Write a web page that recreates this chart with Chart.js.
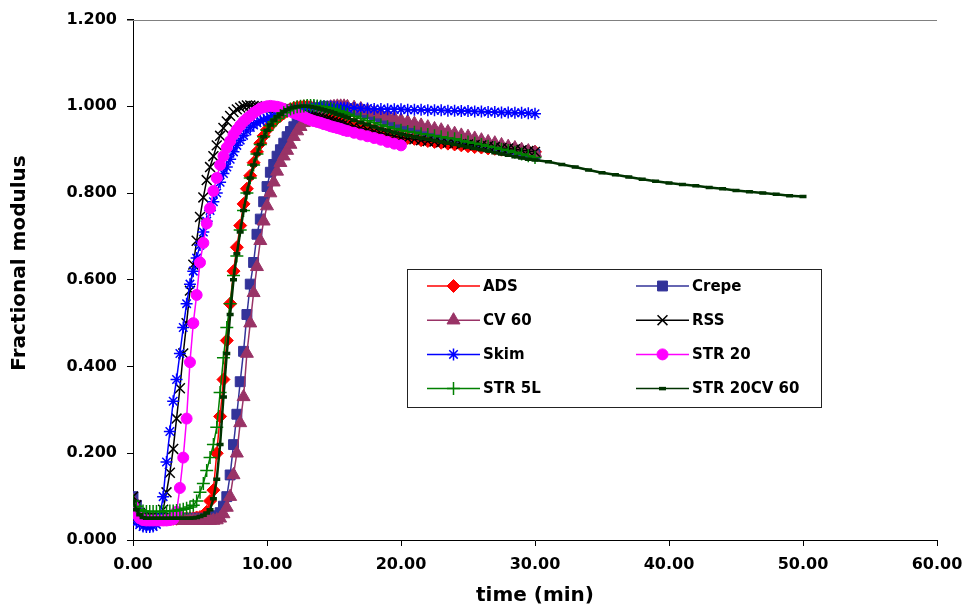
<!DOCTYPE html>
<html>
<head>
<meta charset="utf-8">
<script src="https://cdn.jsdelivr.net/npm/chart.js@4.4.1/dist/chart.umd.min.js"></script>
<style>
  html, body { margin: 0; padding: 0; background: #fff; }
  #wrap { width: 966px; height: 608px; }
</style>
</head>
<body>
<div id="wrap"><canvas id="cureChart" width="966" height="608"></canvas></div>
<script>
// sampling times (min)
const tRise = [0, 0.25, 0.5, 0.75, 1, 1.25, 1.5, 1.75, 2, 2.25, 2.5, 2.75, 3, 3.25, 3.5, 3.75,
  4, 4.25, 4.5, 4.75, 5, 5.25, 5.5, 5.75, 6, 6.25, 6.5, 6.75, 7, 7.25, 7.5, 7.75,
  8, 8.25, 8.5, 8.75, 9, 9.25, 9.5, 9.75, 10, 10.25, 10.5, 10.75, 11, 11.25, 11.5, 11.75,
  12, 12.25, 12.5, 12.75, 13, 13.25, 13.5, 13.75, 14, 14.25, 14.5, 14.75, 15, 15.25, 15.5, 15.75, 16];
const tPlateau = [16.5, 17, 17.5, 18, 18.5, 19, 19.5, 20, 20.5, 21, 21.5, 22, 22.5, 23, 23.5, 24,
  24.5, 25, 25.5, 26, 26.5, 27, 27.5, 28, 28.5, 29, 29.5, 30];
const tTail = [31, 32, 33, 34, 35, 36, 37, 38, 39, 40, 41, 42, 43, 44, 45, 46, 47, 48, 49, 50];

const seriesNames = ['ADS', 'Crepe', 'CV 60', 'RSS', 'Skim', 'STR 20', 'STR 5L', 'STR 20CV 60'];

// fractional modulus
const ads = [0.090, 0.070, 0.058, 0.052, 0.050, 0.049, 0.049, 0.049,
  0.049, 0.049, 0.049, 0.049, 0.049, 0.049, 0.050, 0.050,
  0.050, 0.050, 0.051, 0.052, 0.053, 0.056, 0.065, 0.090,
  0.115, 0.200, 0.285, 0.370, 0.460, 0.545, 0.620, 0.675,
  0.725, 0.775, 0.810, 0.840, 0.870, 0.895, 0.915, 0.932,
  0.946, 0.956, 0.965, 0.972, 0.978, 0.984, 0.989, 0.993,
  0.996, 0.998, 0.999, 1.000, 1.000, 0.999, 0.997, 0.994,
  0.990, 0.987, 0.984, 0.981, 0.978, 0.975, 0.972, 0.969, 0.966,
  0.961, 0.956, 0.951, 0.946, 0.941, 0.937, 0.933, 0.930, 0.927, 0.925, 0.922, 0.920, 0.918, 0.916,
  0.914, 0.912, 0.910, 0.908, 0.906, 0.905, 0.903, 0.902, 0.900, 0.899, 0.898, 0.897, 0.896, 0.895];

const crepe = [0.100, 0.080, 0.062, 0.054, 0.051, 0.050, 0.050, 0.050,
  0.050, 0.050, 0.050, 0.050, 0.050, 0.050, 0.050, 0.050,
  0.050, 0.050, 0.050, 0.050, 0.050, 0.050, 0.050, 0.051,
  0.053, 0.056, 0.063, 0.078, 0.100, 0.150, 0.220, 0.290,
  0.365, 0.435, 0.520, 0.590, 0.640, 0.705, 0.740, 0.780,
  0.815, 0.848, 0.866, 0.885, 0.900, 0.915, 0.930, 0.942,
  0.953, 0.962, 0.970, 0.977, 0.983, 0.988, 0.992, 0.995,
  0.997, 0.999, 1.000, 1.000, 1.000, 0.999, 0.998, 0.997, 0.995,
  0.991, 0.987, 0.983, 0.978, 0.973, 0.968, 0.963, 0.958, 0.954, 0.950, 0.946, 0.942, 0.938, 0.934,
  0.930, 0.926, 0.922, 0.918, 0.915, 0.911, 0.908, 0.905, 0.902, 0.899, 0.896, 0.894, 0.891, 0.889];

const cv60 = [0.090, 0.070, 0.055, 0.048, 0.046, 0.045, 0.045, 0.045,
  0.045, 0.045, 0.045, 0.045, 0.045, 0.045, 0.045, 0.045,
  0.045, 0.045, 0.045, 0.045, 0.045, 0.045, 0.045, 0.045,
  0.045, 0.046, 0.050, 0.060, 0.075, 0.100, 0.150, 0.200,
  0.270, 0.330, 0.430, 0.500, 0.570, 0.630, 0.690, 0.735,
  0.770, 0.800, 0.825, 0.850, 0.870, 0.885, 0.898, 0.912,
  0.930, 0.943, 0.953, 0.962, 0.970, 0.976, 0.982, 0.987,
  0.991, 0.994, 0.996, 0.998, 0.999, 1.000, 1.000, 1.000, 0.999,
  0.997, 0.994, 0.990, 0.986, 0.982, 0.977, 0.973, 0.968, 0.964, 0.960, 0.956, 0.952, 0.948, 0.945,
  0.941, 0.937, 0.933, 0.930, 0.926, 0.922, 0.918, 0.915, 0.911, 0.907, 0.904, 0.900, 0.897, 0.893];

const rss = [0.100, 0.080, 0.062, 0.054, 0.051, 0.050, 0.050, 0.050,
  0.052, 0.070, 0.110, 0.155, 0.210, 0.280, 0.350, 0.430,
  0.500, 0.575, 0.635, 0.690, 0.745, 0.790, 0.830, 0.860,
  0.885, 0.910, 0.932, 0.950, 0.965, 0.978, 0.987, 0.993,
  0.997, 1.000, 1.002, 1.002, 1.001, 1.000, 0.999, 0.998,
  0.997, 0.997, 0.996, 0.996, 0.995, 0.994, 0.993, 0.992,
  0.990, 0.989, 0.988, 0.987, 0.985, 0.983, 0.981, 0.979,
  0.976, 0.974, 0.972, 0.970, 0.967, 0.965, 0.963, 0.960, 0.958,
  0.954, 0.950, 0.946, 0.942, 0.938, 0.935, 0.931, 0.928, 0.926, 0.924, 0.922, 0.920, 0.919, 0.917,
  0.916, 0.915, 0.913, 0.912, 0.911, 0.910, 0.908, 0.906, 0.904, 0.903, 0.901, 0.899, 0.897, 0.895];

const skim = [0.060, 0.042, 0.035, 0.031, 0.030, 0.030, 0.031, 0.036,
  0.055, 0.100, 0.180, 0.250, 0.320, 0.370, 0.430, 0.490,
  0.545, 0.590, 0.620, 0.650, 0.680, 0.710, 0.735, 0.760,
  0.780, 0.800, 0.825, 0.845, 0.860, 0.878, 0.895, 0.910,
  0.922, 0.933, 0.943, 0.951, 0.957, 0.962, 0.966, 0.969,
  0.972, 0.975, 0.978, 0.981, 0.984, 0.987, 0.989, 0.991,
  0.993, 0.995, 0.996, 0.997, 0.998, 0.999, 1.000, 1.000,
  1.000, 1.000, 0.999, 0.999, 0.998, 0.998, 0.997, 0.997, 0.996,
  0.996, 0.995, 0.995, 0.994, 0.994, 0.993, 0.993, 0.993, 0.992, 0.992, 0.992, 0.991, 0.991, 0.991,
  0.990, 0.990, 0.989, 0.989, 0.988, 0.988, 0.987, 0.987, 0.986, 0.986, 0.985, 0.985, 0.984, 0.983];

const str20 = [0.080, 0.060, 0.050, 0.046, 0.045, 0.045, 0.045, 0.045,
  0.045, 0.045, 0.045, 0.046, 0.048, 0.065, 0.120, 0.190,
  0.280, 0.410, 0.500, 0.565, 0.640, 0.685, 0.730, 0.765,
  0.805, 0.835, 0.865, 0.885, 0.905, 0.920, 0.935, 0.946,
  0.956, 0.965, 0.972, 0.978, 0.985, 0.990, 0.995, 0.998,
  1.000, 1.001, 1.000, 0.999, 0.997, 0.994, 0.991, 0.988,
  0.985, 0.982, 0.979, 0.976, 0.972, 0.969, 0.966, 0.964,
  0.962, 0.959, 0.957, 0.954, 0.952, 0.950, 0.948, 0.945, 0.943,
  0.939, 0.935, 0.931, 0.927, 0.923, 0.918, 0.914, 0.910];

const str5l = [0.090, 0.078, 0.070, 0.067, 0.066, 0.066, 0.066, 0.066,
  0.066, 0.066, 0.066, 0.067, 0.067, 0.068, 0.069, 0.071,
  0.073, 0.076, 0.080, 0.090, 0.110, 0.130, 0.160, 0.190,
  0.220, 0.260, 0.340, 0.420, 0.490, 0.545, 0.610, 0.655,
  0.715, 0.760, 0.800, 0.835, 0.865, 0.890, 0.912, 0.930,
  0.945, 0.955, 0.964, 0.972, 0.979, 0.985, 0.990, 0.994,
  0.997, 0.999, 1.000, 1.001, 1.002, 1.002, 1.002, 1.001,
  1.000, 0.999, 0.997, 0.995, 0.993, 0.990, 0.988, 0.985, 0.982,
  0.977, 0.972, 0.967, 0.962, 0.957, 0.953, 0.949, 0.945, 0.942, 0.940, 0.937, 0.935, 0.932, 0.930,
  0.927, 0.925, 0.921, 0.918, 0.915, 0.912, 0.908, 0.905, 0.901, 0.898, 0.894, 0.890, 0.886, 0.882];

const str20cv60 = [0.090, 0.070, 0.058, 0.052, 0.050, 0.050, 0.050, 0.050,
  0.050, 0.050, 0.050, 0.050, 0.050, 0.050, 0.050, 0.050,
  0.050, 0.050, 0.051, 0.052, 0.054, 0.057, 0.062, 0.070,
  0.095, 0.140, 0.220, 0.330, 0.430, 0.520, 0.600, 0.660,
  0.710, 0.760, 0.800, 0.835, 0.865, 0.890, 0.912, 0.930,
  0.945, 0.957, 0.968, 0.976, 0.982, 0.988, 0.992, 0.996,
  0.998, 0.999, 1.000, 1.000, 1.000, 0.999, 0.998, 0.996,
  0.994, 0.992, 0.990, 0.988, 0.985, 0.982, 0.980, 0.977, 0.974,
  0.968, 0.963, 0.958, 0.953, 0.948, 0.944, 0.940, 0.936, 0.933, 0.930, 0.927, 0.924, 0.921, 0.918,
  0.915, 0.912, 0.909, 0.906, 0.903, 0.900, 0.897, 0.893, 0.890, 0.887, 0.884, 0.881, 0.878, 0.876,
  0.872, 0.866, 0.860, 0.853, 0.847, 0.842, 0.837, 0.832, 0.827, 0.823,
  0.820, 0.817, 0.813, 0.810, 0.806, 0.803, 0.800, 0.797, 0.794, 0.792];

const xTicks = [0, 10, 20, 30, 40, 50, 60];

const times = tRise.concat(tPlateau, tTail);
const toPoints = vals => vals.map((v, i) => ({ x: times[i], y: v }));

const styles = [
  { color: '#FF0000', point: 'rectRot', r: 6.5, bw: 1, lw: 1.5 },
  { color: '#333399', point: 'rect', r: 7, bw: 1, lw: 1.5 },
  { color: '#993366', point: 'triangle', r: 7.5, bw: 1, lw: 1.5 },
  { color: '#000000', point: 'crossRot', r: 7, bw: 1.5, lw: 1.5 },
  { color: '#0000FF', point: 'star', r: 6, bw: 1.5, lw: 1.5 },
  { color: '#FF00FF', point: 'circle', r: 5.5, bw: 1, lw: 1.5 },
  { color: '#008000', point: 'cross', r: 6.5, bw: 1.5, lw: 1.5 },
  { color: '#003300', point: 'line', r: 3.5, bw: 3.5, lw: 2.5 }
];
const seriesData = [ads, crepe, cv60, rss, skim, str20, str5l, str20cv60];

const datasets = seriesNames.map((name, i) => ({
  label: name,
  data: toPoints(seriesData[i]),
  borderColor: styles[i].color,
  backgroundColor: styles[i].color,
  borderWidth: styles[i].lw,
  pointStyle: styles[i].point,
  pointRadius: styles[i].r,
  pointBackgroundColor: styles[i].color,
  pointBorderColor: styles[i].color,
  pointBorderWidth: styles[i].bw,
  tension: 0,
  fill: false,
  order: seriesNames.length - 1 - i   // later series drawn on top, as in the original
}));

const FONT = '"DejaVu Sans", "Liberation Sans", Arial, sans-serif';

// boxed two-column legend inside the plot
const legendBox = {
  id: 'legendBox',
  afterDraw(chart) {
    const ctx = chart.ctx;
    ctx.save();
    ctx.fillStyle = '#ffffff';
    ctx.fillRect(407.5, 269.5, 414, 138);
    ctx.strokeStyle = '#222';
    ctx.lineWidth = 1;
    ctx.strokeRect(407.5, 269.5, 414, 138);
    chart.data.datasets.forEach((ds, i) => {
      const col = i % 2, row = Math.floor(i / 2);
      const x0 = col ? 636 : 427;
      const y = 286 + row * 34.2;
      ctx.strokeStyle = ds.borderColor;
      ctx.lineWidth = 1.5;
      ctx.beginPath();
      ctx.moveTo(x0, y);
      ctx.lineTo(x0 + 53, y);
      ctx.stroke();
      ctx.fillStyle = ds.pointBackgroundColor;
      ctx.strokeStyle = ds.pointBorderColor;
      ctx.lineWidth = ds.pointBorderWidth;
      if (Chart.helpers && Chart.helpers.drawPoint) {
        Chart.helpers.drawPoint(ctx, {
          pointStyle: ds.pointStyle, radius: ds.pointRadius,
          borderWidth: ds.pointBorderWidth, rotation: 0
        }, x0 + 26.5, y);
      }
      ctx.fillStyle = '#000';
      ctx.font = 'bold 15px ' + FONT;
      ctx.textBaseline = 'middle';
      ctx.textAlign = 'left';
      ctx.fillText(ds.label, x0 + 56, y + 1);
    });
    ctx.restore();
  }
};

// grey top border of the plot area and the y axis title (placed like the original)
const frameAndTitle = {
  id: 'frameAndTitle',
  afterDraw(chart) {
    const { ctx, chartArea } = chart;
    ctx.save();
    ctx.strokeStyle = '#808080';
    ctx.lineWidth = 1;
    ctx.beginPath();
    ctx.moveTo(chartArea.left - 6, Math.round(chartArea.top) + 0.5);
    ctx.lineTo(chartArea.right, Math.round(chartArea.top) + 0.5);
    ctx.stroke();

    ctx.translate(20, 263);
    ctx.rotate(-Math.PI / 2);
    ctx.fillStyle = '#000';
    ctx.font = 'bold 20px ' + FONT;
    ctx.textAlign = 'center';
    ctx.textBaseline = 'middle';
    ctx.fillText('Fractional modulus', 0, 0);
    ctx.restore();
  }
};

const ctx = document.getElementById('cureChart').getContext('2d');
const cureChart = new Chart(ctx, {
  type: 'line',
  data: { datasets },
  options: {
    responsive: false,
    animation: false,
    layout: { padding: { top: 19, right: 29, left: 0, bottom: 0 } },
    plugins: {
      legend: { display: false },
      tooltip: { enabled: false }
    },
    scales: {
      x: {
        type: 'linear',
        min: 0,
        max: 60,
        afterBuildTicks: scale => { scale.ticks = xTicks.map(v => ({ value: v })); },
        afterFit: scale => {
          scale.height = 68;
          scale.paddingLeft = 0;
          scale.paddingRight = 0;
        },
        ticks: {
          color: '#000',
          font: { family: FONT, size: 16, weight: 'bold' },
          padding: 9,
          maxRotation: 0,
          callback: v => v.toFixed(2)
        },
        grid: { display: true, drawOnChartArea: false, drawTicks: true, tickLength: 6, color: '#000' },
        border: { display: true, color: '#000', width: 1 },
        title: {
          display: true,
          text: 'time (min)',
          color: '#000',
          font: { family: FONT, size: 20, weight: 'bold' },
          padding: { top: 0, bottom: 0 }
        }
      },
      y: {
        min: 0,
        max: 1.2,
        afterFit: scale => { scale.width = 133; },
        ticks: {
          stepSize: 0.2,
          color: '#000',
          font: { family: FONT, size: 16, weight: 'bold' },
          padding: 10,
          callback: v => v.toFixed(3)
        },
        grid: { display: true, drawOnChartArea: false, drawTicks: true, tickLength: 6, color: '#000' },
        border: { display: true, color: '#000', width: 1 }
      }
    }
  },
  plugins: [frameAndTitle, legendBox]
});
</script>
</body>
</html>
